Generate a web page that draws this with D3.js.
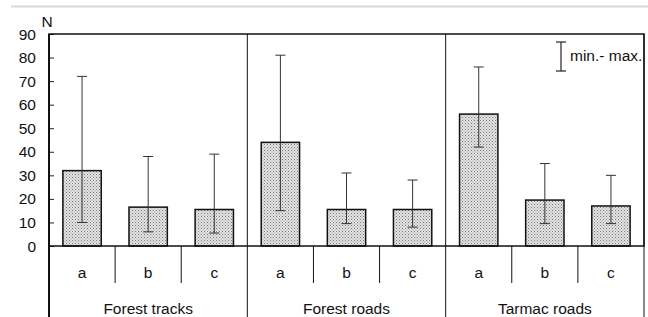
<!DOCTYPE html>
<html>
<head>
<meta charset="utf-8">
<script src="https://cdn.jsdelivr.net/npm/d3@7"></script>
<style>
  body { margin: 0; background: #fff; }
  text { font-family: "Liberation Sans", Arial, sans-serif; fill: #111; }
</style>
</head>
<body>
<svg id="chart" width="648" height="317"></svg>
<script>
const groups = ['Forest tracks', 'Forest roads', 'Tarmac roads'];
const subs = ['a', 'b', 'c'];
// mean N, min, max per group x sub (row = group)
const means = [[32, 16.5, 15.5], [44, 15.5, 15.5], [56, 19.5, 17]];
const mins = [[10, 6, 5.5], [15, 9.5, 8], [42, 9.5, 9.5]];
const maxs = [[72, 38, 39], [81, 31, 28], [76, 35, 30]];
const yTicks = [0, 10, 20, 30, 40, 50, 60, 70, 80, 90];

main();

function main () {
  const svg = d3.select('#chart');
  const L = 49, R = 644, T = 34, B = 246;

  // stipple fill like the original
  const pat = svg.append('defs').append('pattern')
    .attr('id', 'dots').attr('width', 3).attr('height', 3)
    .attr('patternUnits', 'userSpaceOnUse');
  pat.append('rect').attr('width', 3).attr('height', 3).attr('fill', '#e2e2e2');
  pat.append('rect').attr('x', 0).attr('y', 0).attr('width', 1).attr('height', 1).attr('fill', '#7c7c7c');
  pat.append('rect').attr('x', 1.5).attr('y', 1.5).attr('width', 1).attr('height', 1).attr('fill', '#9a9a9a');

  const rows = [];
  groups.forEach((g, gi) => subs.forEach((s, si) => rows.push({
    key: g + '|' + s, group: g, sub: s,
    value: means[gi][si], lo: mins[gi][si], hi: maxs[gi][si]
  })));

  const x = d3.scaleBand().domain(rows.map(d => d.key)).range([L, R]);
  const xg = d3.scaleBand().domain(groups).range([L, R]);
  const y = d3.scaleLinear().domain([0, 90]).range([B, T]);

  // gray rule at top
  svg.append('line')
    .attr('x1', 11).attr('x2', 648).attr('y1', 6.5).attr('y2', 6.5)
    .attr('stroke', '#d9d9d9').attr('stroke-width', 2);

  // y axis ticks pointing inward
  const yAxis = d3.axisRight(y).tickValues(yTicks).tickSize(5).tickFormat('');
  svg.append('g').attr('transform', `translate(${L},0)`).call(yAxis)
    .call(g => g.select('.domain').remove())
    .selectAll('line').attr('stroke', '#222');
  svg.append('g').selectAll('text').data(yTicks).join('text')
    .attr('x', 36).attr('y', d => y(d)).attr('dy', '0.36em')
    .attr('text-anchor', 'end').attr('font-size', 15.5).text(d => d);
  svg.append('text').attr('x', 47).attr('y', 27)
    .attr('text-anchor', 'middle').attr('font-size', 15.5).text('N');

  // bars
  const bw = x.bandwidth() * 0.58;
  svg.append('g').selectAll('rect').data(rows).join('rect')
    .attr('x', d => x(d.key) + (x.bandwidth() - bw) / 2)
    .attr('y', d => y(d.value))
    .attr('width', bw).attr('height', d => y(0) - y(d.value))
    .attr('fill', 'url(#dots)').attr('stroke', '#111').attr('stroke-width', 1.5);

  // error bars (min - max)
  const eb = svg.append('g').attr('stroke', '#333').attr('stroke-width', 1);
  const cx = d => x(d.key) + x.bandwidth() / 2;
  eb.selectAll('.v').data(rows).join('line')
    .attr('x1', cx).attr('x2', cx).attr('y1', d => y(d.lo)).attr('y2', d => y(d.hi));
  ['lo', 'hi'].forEach(k => {
    eb.selectAll('.' + k).data(rows).join('line').attr('class', k)
      .attr('x1', d => cx(d) - 5).attr('x2', d => cx(d) + 5)
      .attr('y1', d => y(d[k])).attr('y2', d => y(d[k]));
  });

  // frame
  svg.append('rect').attr('x', L).attr('y', T).attr('width', R - L).attr('height', B - T)
    .attr('fill', 'none').attr('stroke', '#111').attr('stroke-width', 1.5);
  svg.append('line').attr('x1', L).attr('x2', L).attr('y1', T).attr('y2', 317)
    .attr('stroke', '#111').attr('stroke-width', 2);

  // group separators
  groups.slice(1).forEach(g => {
    svg.append('line').attr('x1', xg(g)).attr('x2', xg(g)).attr('y1', T).attr('y2', 317)
      .attr('stroke', '#111').attr('stroke-width', 1);
  });
  svg.append('line').attr('x1', R).attr('x2', R).attr('y1', T).attr('y2', 317)
    .attr('stroke', '#111').attr('stroke-width', 1);

  // sub-category separators
  rows.filter(d => d.sub !== 'a').forEach(d => {
    svg.append('line').attr('x1', x(d.key)).attr('x2', x(d.key)).attr('y1', B).attr('y2', 283)
      .attr('stroke', '#111').attr('stroke-width', 1);
  });

  svg.append('g').selectAll('text').data(rows).join('text')
    .attr('x', cx).attr('y', 278).attr('text-anchor', 'middle')
    .attr('font-size', 15.5).text(d => d.sub);
  svg.append('g').selectAll('text').data(groups).join('text')
    .attr('x', d => xg(d) + xg.bandwidth() / 2).attr('y', 314).attr('text-anchor', 'middle')
    .attr('font-size', 15.5).text(d => d);

  // legend
  const lg = svg.append('g').attr('stroke', '#222').attr('stroke-width', 1.2);
  lg.append('line').attr('x1', 561).attr('x2', 561).attr('y1', 42).attr('y2', 71);
  lg.append('line').attr('x1', 556).attr('x2', 566).attr('y1', 42).attr('y2', 42);
  lg.append('line').attr('x1', 556).attr('x2', 566).attr('y1', 71).attr('y2', 71);
  svg.append('text').attr('x', 570).attr('y', 61).attr('font-size', 15.5).text('min.- max.');
}
</script>
</body>
</html>
